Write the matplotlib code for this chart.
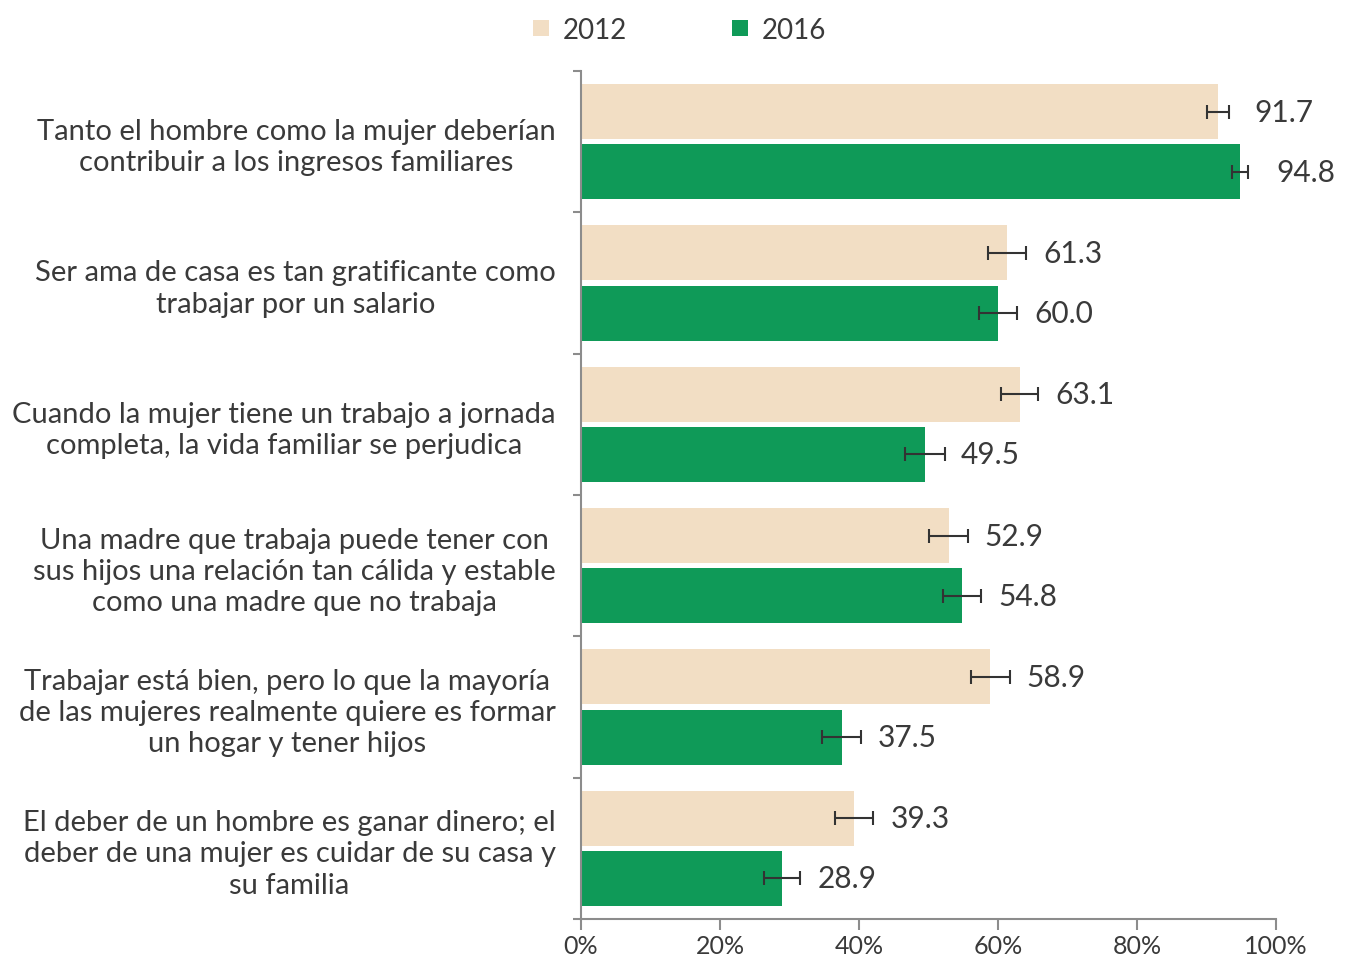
import matplotlib
matplotlib.use("Agg")
import matplotlib.pyplot as plt
from matplotlib.patches import Patch
import numpy as np

plt.rcParams['font.family'] = ['Lato', 'DejaVu Sans']

# data
categories = [
    "Tanto el hombre como la mujer deberían\ncontribuir a los ingresos familiares",
    "Ser ama de casa es tan gratificante como\ntrabajar por un salario",
    "Cuando la mujer tiene un trabajo a jornada\ncompleta, la vida familiar se perjudica",
    "Una madre que trabaja puede tener con\nsus hijos una relación tan cálida y estable\ncomo una madre que no trabaja",
    "Trabajar está bien, pero lo que la mayoría\nde las mujeres realmente quiere es formar\nun hogar y tener hijos",
    "El deber de un hombre es ganar dinero; el\ndeber de una mujer es cuidar de su casa y\nsu familia",
]
years = ["2012", "2016"]
values_2012 = [91.7, 61.3, 63.1, 52.9, 58.9, 39.3]
values_2016 = [94.8, 60.0, 49.5, 54.8, 37.5, 28.9]
err_2012 = [1.6, 2.7, 2.7, 2.8, 2.8, 2.7]
err_2016 = [1.2, 2.7, 2.9, 2.7, 2.8, 2.6]
xticks = [0, 20, 40, 60, 80, 100]

color_2012 = "#F2DEC4"
color_2016 = "#0F9A58"
text_color = "#3a3a3a"
axis_color = "#8c8c8c"

fig = plt.figure(figsize=(13.46, 9.62), dpi=100)
ax = fig.add_axes([0.4316, 0.0437, 0.5164, 0.8815])

y = np.arange(len(categories))
h = 0.39
off = 0.213

for vals, errs, col, sign in [(values_2012, err_2012, color_2012, -1),
                              (values_2016, err_2016, color_2016, 1)]:
    pos = y + sign * off
    ax.barh(pos, vals, height=h, color=col, zorder=2)
    ax.errorbar(vals, pos, xerr=errs, fmt='none', ecolor="#333333",
                elinewidth=1.5, capsize=5, capthick=1.5, zorder=3)
    for v, e, p in zip(vals, errs, pos):
        ax.annotate(f"{v:.1f}", (v, p), xytext=(26, 0), textcoords='offset points',
                    va='center', ha='left', fontsize=21.5, color=text_color)

ax.set_xlim(0, 100)
ax.set_ylim(len(categories) - 0.5, -0.5)
ax.set_xticks(xticks)
ax.set_xticklabels([f"{t}%" for t in xticks])
ax.set_yticks(y)
ax.set_yticklabels(categories, multialignment='center', linespacing=1.25)
ax.set_yticks(np.arange(len(categories) + 1) - 0.5, minor=True)

ax.tick_params(axis='y', which='major', length=0, pad=18, labelsize=21, labelcolor=text_color)
ax.tick_params(axis='y', which='minor', length=6, width=1.5, color=axis_color, direction='out')
ax.tick_params(axis='x', length=8, width=1.5, color=axis_color, labelsize=18, labelcolor=text_color, pad=3)

for s in ['top', 'right']:
    ax.spines[s].set_visible(False)
for s in ['left', 'bottom']:
    ax.spines[s].set_color(axis_color)
    ax.spines[s].set_linewidth(1.5)

handles = [Patch(facecolor=color_2012, label=years[0]),
           Patch(facecolor=color_2016, label=years[1])]
fig.legend(handles=handles, loc='center', bbox_to_anchor=(0.505, 0.968), ncol=2,
           frameon=False, fontsize=20, handlelength=0.55, handleheight=0.55,
           handletextpad=0.5, columnspacing=3.8, labelcolor=text_color)

fig.savefig("out.png", dpi=100)
